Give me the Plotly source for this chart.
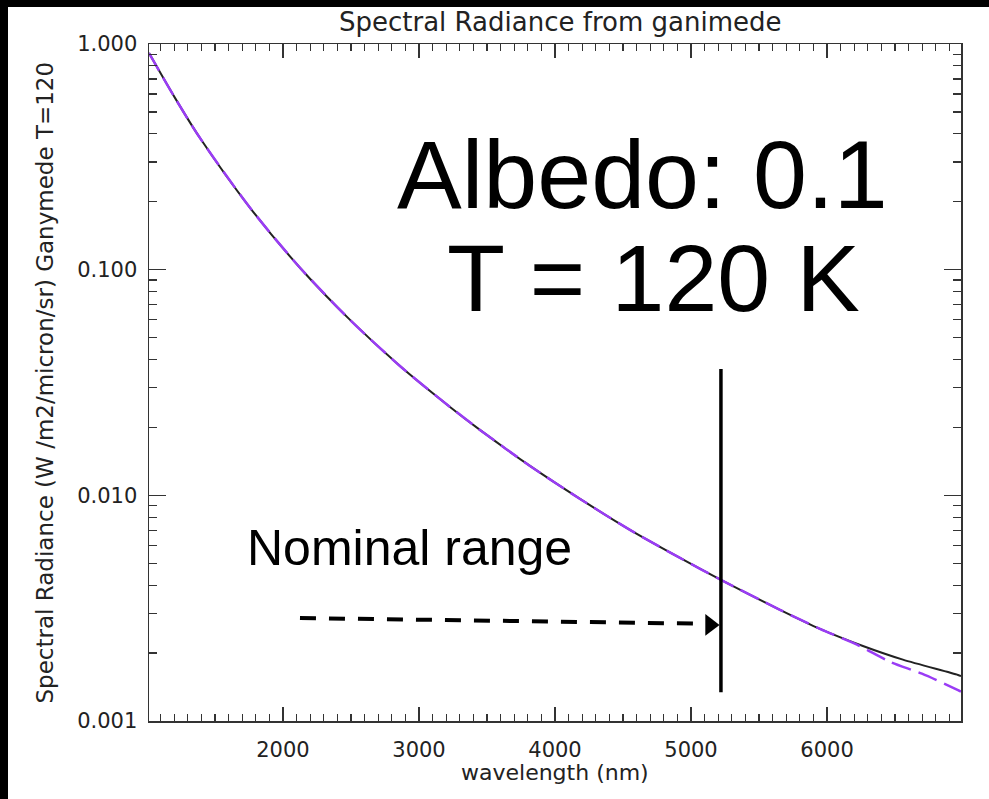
import plotly.graph_objects as go

# ---- data ----
wavelength_black = [1015, 1206, 1390, 1758, 2125, 2493, 2860, 3228, 3448, 3816,
                    4184, 4551, 4919, 5220, 5654, 5948, 6264, 6558, 6963, 6985]
radiance_black = [0.912, 0.577, 0.383, 0.188, 0.102, 0.0599, 0.03744, 0.02465, 0.0195, 0.01350,
                  0.00964, 0.00703, 0.00528, 0.00422, 0.00311, 0.00256, 0.00215, 0.00187, 0.00160, 0.00158]

wavelength_purple = [1015, 1206, 1390, 1758, 2125, 2493, 2860, 3228, 3448, 3816,
                     4184, 4551, 4919, 5220, 5654, 5948, 6220, 6463, 6698, 6963, 6985]
radiance_purple = [0.912, 0.577, 0.383, 0.188, 0.102, 0.0599, 0.03744, 0.02465, 0.0195, 0.01350,
                   0.00964, 0.00703, 0.00528, 0.00422, 0.00311, 0.00256, 0.00218, 0.00183, 0.00162, 0.00137, 0.00135]

x_tick_vals = [2000, 3000, 4000, 5000, 6000]
x_tick_text = ["2000", "3000", "4000", "5000", "6000"]
y_tick_vals = [0.001, 0.01, 0.1, 1.0]
y_tick_text = ["0.001", "0.010", "0.100", "1.000"]
y_minor_vals = [m * 10.0 ** e for e in (-3, -2, -1) for m in range(2, 10)]

x_range = [1015, 6985]

# annotation geometry (data units)
limit_wavelength = 5220
limit_line_y = [0.0363, 0.00134]
arrow_x = [2125, 5070]
arrow_y = [0.00286, 0.00270]
arrow_head = (5140, 0.002666)

axis_font = "DejaVu Sans"

fig = go.Figure()

fig.add_trace(go.Scatter(x=wavelength_black, y=radiance_black, mode="lines",
                         line=dict(color="#222222", width=2, shape="spline", smoothing=0.8),
                         showlegend=False, hoverinfo="skip"))
fig.add_trace(go.Scatter(x=wavelength_purple, y=radiance_purple, mode="lines",
                         line=dict(color="#9a3cf5", width=2.5, dash="20px,8px", shape="spline", smoothing=0.8),
                         showlegend=False, hoverinfo="skip"))

# vertical limit line
fig.add_trace(go.Scatter(x=[limit_wavelength, limit_wavelength], y=limit_line_y, mode="lines",
                         line=dict(color="black", width=3.5), showlegend=False, hoverinfo="skip"))
# dashed arrow
fig.add_trace(go.Scatter(x=arrow_x, y=arrow_y, mode="lines",
                         line=dict(color="black", width=4, dash="16px,13px"),
                         showlegend=False, hoverinfo="skip"))
fig.add_trace(go.Scatter(x=[arrow_head[0]], y=[arrow_head[1]], mode="markers",
                         marker=dict(symbol="triangle-right", size=19, color="black"),
                         showlegend=False, hoverinfo="skip"))

# plot geometry in pixels
W, H = 989, 799
L, R, T, B = 149, 961, 44, 721
pw, ph = R - L, B - T


def px(xp):
    return (xp - L) / pw


def py(yp):
    return (B - yp) / ph


shapes = [
    dict(type="rect", xref="paper", yref="paper", x0=px(0), x1=px(W), y0=py(7), y1=py(0),
         fillcolor="black", line=dict(width=0), layer="above"),
    dict(type="rect", xref="paper", yref="paper", x0=px(0), x1=px(8), y0=py(H), y1=py(0),
         fillcolor="black", line=dict(width=0), layer="above"),
]

annotations = [
    dict(text="Spectral Radiance from ganimede", xref="paper", yref="paper", x=px(560), y=py(22),
         xanchor="center", yanchor="middle", showarrow=False,
         font=dict(family=axis_font, size=26, color="#222")),
    dict(text="Spectral Radiance (W /m2/micron/sr) Ganymede T=120", xref="paper", yref="paper",
         x=px(44), y=0.5, textangle=-90, xanchor="center", yanchor="middle", showarrow=False,
         font=dict(family=axis_font, size=23, color="#222")),
    dict(text="wavelength (nm)", xref="paper", yref="paper", x=0.5, y=py(772),
         xanchor="center", yanchor="middle", showarrow=False,
         font=dict(family=axis_font, size=22, color="#222")),
    dict(text="Albedo: 0.1", xref="paper", yref="paper", x=px(642), y=py(174),
         xanchor="center", yanchor="middle", showarrow=False,
         font=dict(family="Liberation Sans, Arial", size=97, color="black")),
    dict(text="T = 120 K", xref="paper", yref="paper", x=px(653), y=py(278),
         xanchor="center", yanchor="middle", showarrow=False,
         font=dict(family="Liberation Sans, Arial", size=95, color="black")),
    dict(text="Nominal range", xref="paper", yref="paper", x=px(409), y=py(548),
         xanchor="center", yanchor="middle", showarrow=False,
         font=dict(family="Liberation Sans, Arial", size=50, color="black")),
]

axis_common = dict(showline=True, linecolor="#333", linewidth=1.5, mirror="ticks",
                   ticks="inside", tickcolor="#333", tickwidth=1.5, showgrid=False, zeroline=False,
                   tickfont=dict(family=axis_font, size=21, color="#222"))

fig.update_layout(
    width=W, height=H,
    margin=dict(l=L, r=W - R, t=T, b=H - B),
    paper_bgcolor="white", plot_bgcolor="white",
    xaxis=dict(range=x_range, tickvals=x_tick_vals, ticktext=x_tick_text, ticklen=14,
               ticklabelstandoff=9,
               minor=dict(dtick=100, tick0=0, ticklen=7, ticks="inside", tickcolor="#333", tickwidth=1.2,
                          showgrid=False),
               **axis_common),
    yaxis=dict(type="log", range=[-3, 0], tickvals=y_tick_vals, ticktext=y_tick_text, ticklen=17,
               ticklabelstandoff=6,
               minor=dict(tickvals=y_minor_vals, ticklen=8, ticks="inside", tickcolor="#333", tickwidth=1.2,
                          showgrid=False),
               **axis_common),
    shapes=shapes,
    annotations=annotations,
    showlegend=False,
)

fig.write_html("out.html",
               config={"displayModeBar": False, "staticPlot": True},
               post_script="document.body.style.margin='0px';document.body.style.overflow='hidden';")
